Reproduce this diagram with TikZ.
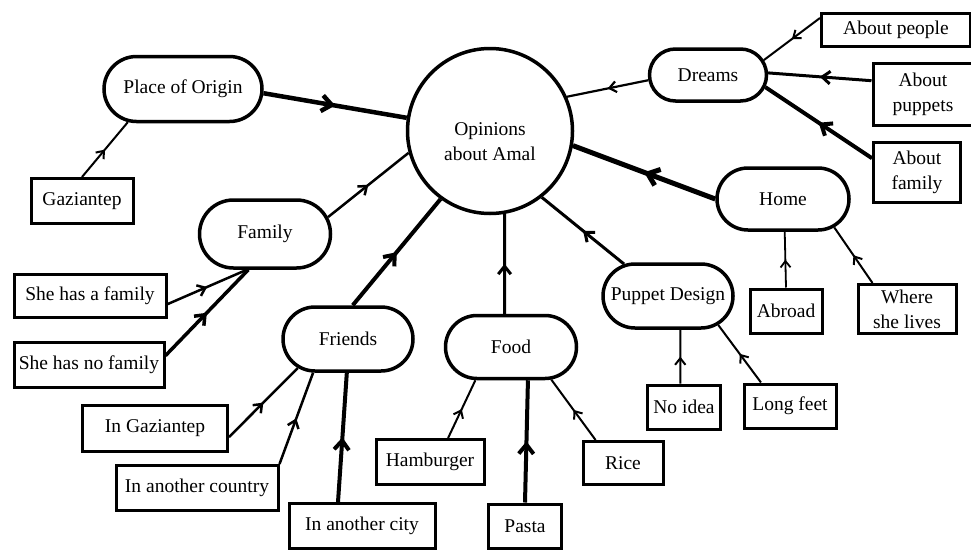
\documentclass[tikz,border=0pt]{standalone}
\usepackage{fontspec}
\setmainfont{Liberation Serif}
\usetikzlibrary{shapes.misc,arrows.meta,decorations.markings}

\tikzset{
  hub/.style={draw, circle, line width=3.5pt, minimum size=165pt, inner sep=0pt},
  topic/.style={draw, rounded rectangle, line width=3.5pt, inner sep=0pt},
  leaf/.style={draw, rectangle, line width=3pt, inner sep=0pt, align=center},
  link/.style={postaction={decorate},
    decoration={markings, mark=at position 0.5 with {\arrow{Straight Barb[length=4pt 1.3, width=6pt 2.2]}}}}
}

\begin{document}
\begin{tikzpicture}[x=1pt, y=-1pt, every node/.style={font=\fontsize{19.5}{25}\selectfont}]
  \useasboundingbox (0,0) rectangle (971,549);

  % Draw the central circle
  \node[hub] (amal) at (490,131) {};
  \node[align=center] (amaltext) at (490,142) {Opinions\\about Amal};

  % Draw the topics round it
  \node[topic, minimum width=158pt, minimum height=65pt] (origin) at (183,89) {Place of Origin};
  \node[topic, minimum width=131pt, minimum height=68pt] (family) at (265,234) {Family};
  \node[topic, minimum width=130pt, minimum height=64pt] (friends) at (348,339) {Friends};
  \node[topic, minimum width=131pt, minimum height=63pt] (food) at (511,347) {Food};
  \node[topic, minimum width=130pt, minimum height=64pt] (puppet) at (668,296) {Puppet Design};
  \node[topic, minimum width=132pt, minimum height=62pt] (home) at (783,199) {Home};
  \node[topic, minimum width=117pt, minimum height=52pt] (dreams) at (708,75) {Dreams};

  % Draw the boxes of the answers
  \node[leaf, minimum width=102pt, minimum height=45pt] (gaz) at (82,201) {Gaziantep};
  \node[leaf, minimum width=152pt, minimum height=43pt] (hasfam) at (90,296) {She has a family};
  \node[leaf, minimum width=150pt, minimum height=45pt] (nofam) at (89,365) {She has no family};
  \node[leaf, minimum width=145pt, minimum height=46pt] (ingaz) at (155,428) {In Gaziantep};
  \node[leaf, minimum width=162pt, minimum height=45pt] (country) at (197,488) {In another country};
  \node[leaf, minimum width=146pt, minimum height=45pt] (city) at (362,526) {In another city};
  \node[leaf, minimum width=108pt, minimum height=45pt] (burger) at (430,462) {Hamburger};
  \node[leaf, minimum width=73pt, minimum height=44pt] (pasta) at (525,526) {Pasta};
  \node[leaf, minimum width=80pt, minimum height=43pt] (rice) at (623,463) {Rice};
  \node[leaf, minimum width=73pt, minimum height=44pt] (noidea) at (684,407) {No idea};
  \node[leaf, minimum width=92pt, minimum height=44pt] (feet) at (790,406) {Long feet};
  \node[leaf, minimum width=72pt, minimum height=44pt] (abroad) at (786,311) {Abroad};
  \node[leaf, minimum width=98pt, minimum height=49pt] (where) at (907,309) {Where\\she lives};
  \node[leaf, minimum width=149pt, minimum height=33pt] (people) at (896,30) {About people};
  \node[leaf, minimum width=100pt, minimum height=62pt] (puppets) at (923,94.5) {About\\puppets};
  \node[leaf, minimum width=87pt, minimum height=60pt] (aboutfam) at (917,172) {About\\family};

  % Connect the topics to the circle
  \draw[link, line width=4.5pt] (origin.-3) -- (amal.171);
  \draw[link, line width=2.5pt] (family.15) -- (amal.195);
  \draw[link, line width=4pt] (friends.82) -- (amal.-126);
  \draw[link, line width=3pt] (food.101) -- (amal.-80);
  \draw[link, line width=3pt] (puppet.144) -- (amal.-52);
  \draw[link, line width=5pt] (home.180) -- (amal.-10);
  \draw[link, line width=2.2pt] (dreams.185) -- (amal.24);

  % Connect the answers to their topics
  \draw[link, line width=2pt] (gaz.north) -- (origin.-149);
  \draw[link, line width=2.5pt] (hasfam.-6) -- (family.-117);
  \draw[link, line width=3.5pt] (nofam.7) -- (family.-115);
  \draw[link, line width=2.5pt] (ingaz.-7) -- (friends.-150);
  \draw[link, line width=2.5pt] (country.north east) -- (friends.-136);
  \draw[link, line width=4pt] (city.135) -- (friends.-92);
  \draw[link, line width=2pt] (burger.53) -- (food.-137);
  \draw[link, line width=4pt] (pasta.north) -- (food.-63);
  \draw[link, line width=2pt] (rice.140) -- (food.-39);
  \draw[link, line width=2pt] (noidea.99) -- (puppet.-70);
  \draw[link, line width=2pt] (feet.141) -- (puppet.-30);
  \draw[link, line width=1.8pt] (abroad.north) -- (home.-87);
  \draw[link, line width=2pt] (where.143) -- (home.-29);
  \draw[link, line width=2pt] (people.171) -- (dreams.15);
  \draw[link, line width=3pt] (puppets.165) -- (dreams.2);
  \draw[link, line width=4pt] (aboutfam.163) -- (dreams.-12);
\end{tikzpicture}
\end{document}
